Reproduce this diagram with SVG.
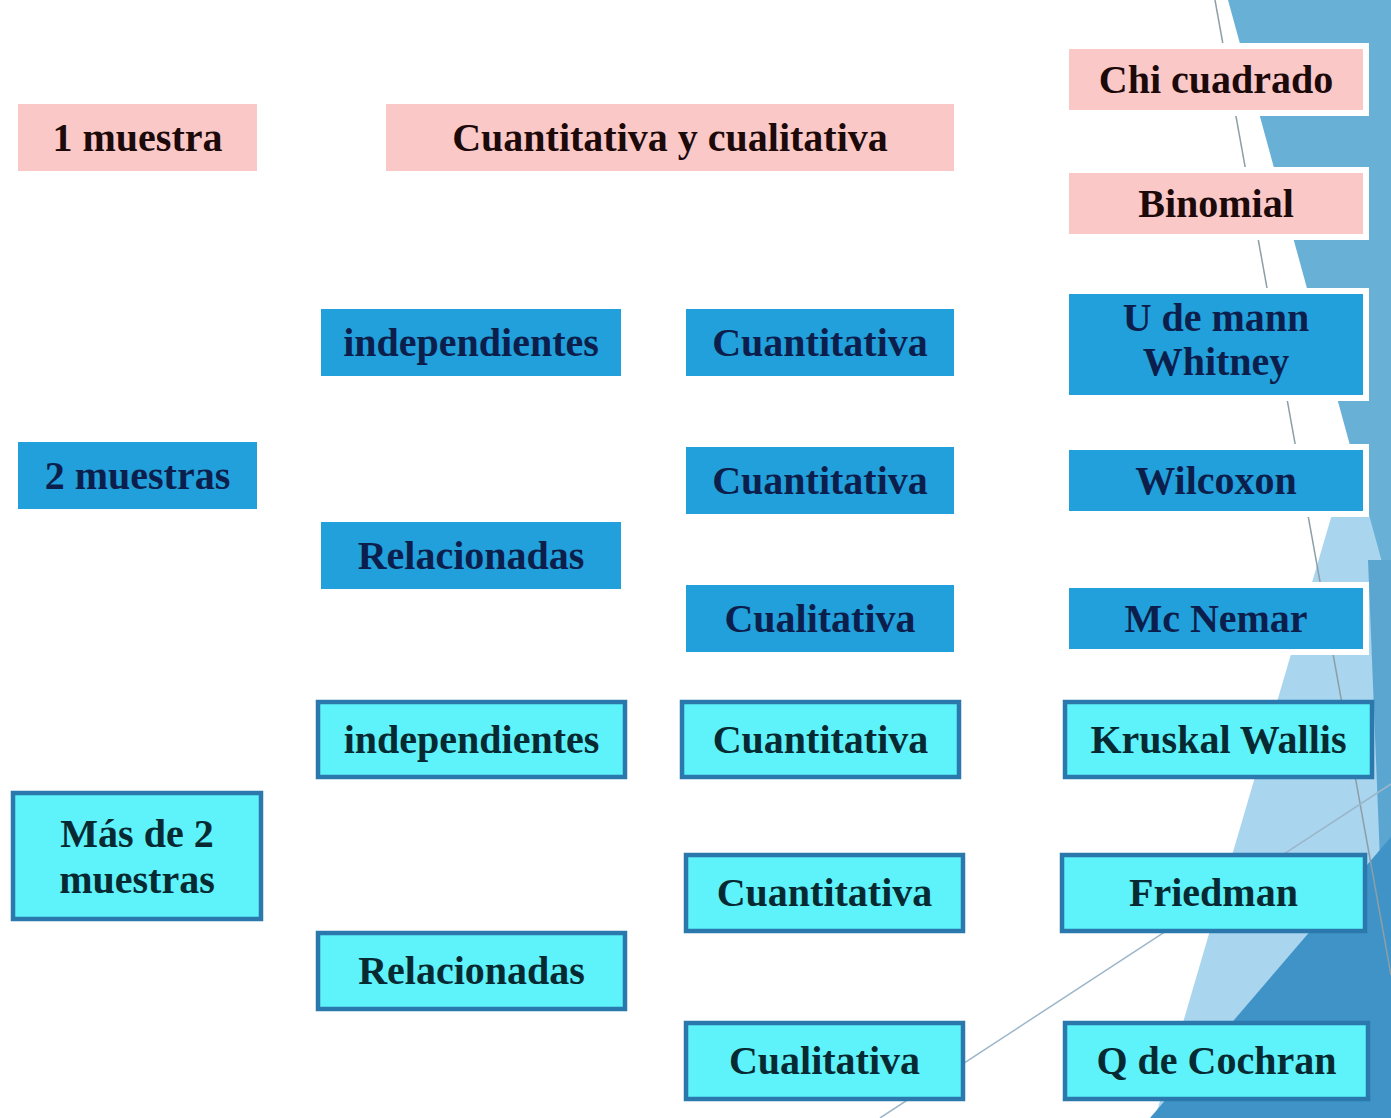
<svg xmlns="http://www.w3.org/2000/svg" width="1391" height="1118" viewBox="0 0 1391 1118">
<style>
text{font-family:"Liberation Serif","Times New Roman",serif;font-weight:bold;font-size:40px;text-anchor:middle}
.pink{fill:#f9c8c7}
.blue{fill:#22a0db}
.cyan{fill:#5ef2fa;stroke:#2b78ac;stroke-width:4.5}
.rw{stroke:#ffffff;stroke-width:6}
.tp{fill:#1c0a0a}
.tb{fill:#0c1f4c}
.tc{fill:#072a32}
</style>
<rect x="0" y="0" width="1391" height="1118" fill="#ffffff"/>
<g id="background">
<polygon points="1345,470 1391,470 1391,1118 1155,1118" fill="#a9d5ee"/>
<polygon points="1228,0 1391,0 1391,595" fill="#68b0d6"/>
<polygon points="1368,560 1391,560 1391,860 1380,860" fill="#5aa6d0"/>
<polygon points="1150,1118 1391,837 1391,1118" fill="#3f93c7"/>
<line x1="1215" y1="0" x2="1391" y2="975" stroke="#8d9ea6" stroke-width="1.5"/>
<line x1="880" y1="1118" x2="1391" y2="784" stroke="#9cb6c9" stroke-width="1.5"/>
</g>
<g id="connectors"></g>
<g id="n-1muestra"><rect class="pink" x="18" y="104" width="239" height="67"/><text class="tp" x="137.5" y="150.5">1 muestra</text></g>
<g id="n-cuanticuali"><rect class="pink" x="386" y="104" width="568" height="67"/><text class="tp" x="670" y="150.5">Cuantitativa y cualitativa</text></g>
<g id="n-chi"><rect class="pink rw" x="1066" y="46" width="300" height="67"/><text class="tp" x="1216" y="92.5">Chi cuadrado</text></g>
<g id="n-binomial"><rect class="pink rw" x="1066" y="170" width="300" height="67"/><text class="tp" x="1216" y="216.5">Binomial</text></g>
<g id="n-indep1"><rect class="blue" x="321" y="309" width="300" height="67"/><text class="tb" x="471" y="355.5">independientes</text></g>
<g id="n-cuanti1"><rect class="blue" x="686" y="309" width="268" height="67"/><text class="tb" x="820" y="355.5">Cuantitativa</text></g>
<g id="n-umann"><rect class="blue rw" x="1066" y="291" width="300" height="107"/><text class="tb" x="1216" y="331">U de mann</text><text class="tb" x="1216" y="375">Whitney</text></g>
<g id="n-2muestras"><rect class="blue" x="18" y="442" width="239" height="67"/><text class="tb" x="137.5" y="488.5">2 muestras</text></g>
<g id="n-cuanti2"><rect class="blue" x="686" y="447" width="268" height="67"/><text class="tb" x="820" y="493.5">Cuantitativa</text></g>
<g id="n-wilcoxon"><rect class="blue rw" x="1066" y="447" width="300" height="67"/><text class="tb" x="1216" y="493.5">Wilcoxon</text></g>
<g id="n-relac1"><rect class="blue" x="321" y="522" width="300" height="67"/><text class="tb" x="471" y="568.5">Relacionadas</text></g>
<g id="n-cuali1"><rect class="blue" x="686" y="585" width="268" height="67"/><text class="tb" x="820" y="631.5">Cualitativa</text></g>
<g id="n-mcnemar"><rect class="blue rw" x="1066" y="585" width="300" height="67"/><text class="tb" x="1216" y="631.5">Mc Nemar</text></g>
<g id="n-indep2"><rect class="cyan" x="318" y="702" width="307" height="75"/><text class="tc" x="471.5" y="752.5">independientes</text></g>
<g id="n-cuanti3"><rect class="cyan" x="682" y="702" width="277" height="75"/><text class="tc" x="820.5" y="752.5">Cuantitativa</text></g>
<g id="n-kruskal"><rect class="cyan" x="1065" y="702" width="307" height="75"/><text class="tc" x="1218.5" y="752.5">Kruskal Wallis</text></g>
<g id="n-mas2"><rect class="cyan" x="13" y="793" width="248" height="126"/><text class="tc" x="137" y="847">Más de 2</text><text class="tc" x="137" y="893">muestras</text></g>
<g id="n-cuanti4"><rect class="cyan" x="686" y="855" width="277" height="76"/><text class="tc" x="824.5" y="906">Cuantitativa</text></g>
<g id="n-friedman"><rect class="cyan" x="1062" y="855" width="303" height="76"/><text class="tc" x="1213.5" y="906">Friedman</text></g>
<g id="n-relac2"><rect class="cyan" x="318" y="933" width="307" height="76"/><text class="tc" x="471.5" y="984">Relacionadas</text></g>
<g id="n-cuali2"><rect class="cyan" x="686" y="1023" width="277" height="76"/><text class="tc" x="824.5" y="1074">Cualitativa</text></g>
<g id="n-cochran"><rect class="cyan" x="1065" y="1023" width="303" height="76"/><text class="tc" x="1216.5" y="1074">Q de Cochran</text></g>
</svg>
